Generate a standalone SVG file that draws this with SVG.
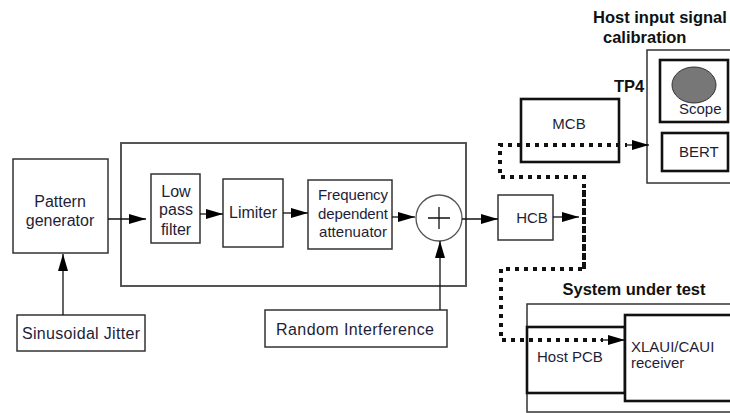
<svg xmlns="http://www.w3.org/2000/svg" width="730" height="413" viewBox="0 0 730 413">
<defs>
<marker id="ah" markerUnits="userSpaceOnUse" markerWidth="18" markerHeight="12" refX="17" refY="6" orient="auto">
<path d="M0,1 L17,6 L0,11 Z" fill="#000"/>
</marker>
<style>
.box{fill:#fff;stroke:#333;stroke-width:1.5}
.thick{fill:#fff;stroke:#111;stroke-width:2.6}
.frame{fill:none;stroke:#555;stroke-width:2}
.t{font-family:"Liberation Sans",Arial,sans-serif;font-size:15px;fill:#1e1e38}
.l{font-size:16px}
.b{font-family:"Liberation Sans",Arial,sans-serif;font-size:16.5px;font-weight:bold;fill:#111}
.c{text-anchor:middle}
.wire{fill:none;stroke:#111;stroke-width:1.3}
.dot{fill:none;stroke:#111;stroke-width:4;stroke-dasharray:4 5}
</style>
</defs>
<rect width="730" height="413" fill="#fff"/>

<g id="frame-main"><rect class="frame" x="121" y="143" width="345" height="143"/></g>

<g id="pattern-generator"><rect class="box" x="13" y="159" width="95" height="94"/>
<text class="t l c" x="60" y="207">Pattern</text><text class="t l c" x="60" y="226">generator</text></g>

<g id="sinusoidal-jitter"><rect class="box" x="17" y="315" width="128" height="36"/>
<text class="t l c" x="81" y="339" textLength="118">Sinusoidal Jitter</text></g>

<g id="low-pass-filter"><rect class="box" x="151" y="174" width="49" height="69"/>
<text class="t l c" x="176" y="197">Low</text><text class="t l c" x="176" y="215">pass</text><text class="t l c" x="176" y="235">filter</text></g>

<g id="limiter"><rect class="box" x="223" y="179" width="60" height="68"/>
<text class="t l c" x="253" y="218">Limiter</text></g>

<g id="freq-attenuator"><rect class="box" x="308" y="180" width="84" height="69"/>
<text class="t c" x="353" y="200" textLength="70">Frequency</text><text class="t c" x="353" y="219" textLength="70">dependent</text><text class="t c" x="353" y="237" textLength="68">attenuator</text></g>

<g id="summer"><circle cx="439" cy="218" r="23" fill="#fff" stroke="#555" stroke-width="1.3"/>
<path d="M439,207 V229 M428,218 H450" stroke="#111" stroke-width="1.3"/></g>

<g id="random-interference"><rect class="box" x="265" y="310" width="182" height="37"/>
<text class="t l c" x="355" y="335" textLength="158">Random Interference</text></g>

<g id="hcb"><rect class="box" x="498" y="195" width="55" height="45"/>
<text class="t c" x="532" y="223">HCB</text></g>

<g id="mcb"><rect class="thick" x="521" y="99" width="98" height="63"/>
<text class="t c" x="569" y="129">MCB</text></g>
<g id="tp4-label"><text class="b" x="614" y="92">TP4</text></g>

<g id="host-calibration"><rect class="box" x="647" y="50" width="90" height="133"/>
<text class="b" x="593" y="23">Host input signal</text><text class="b" x="603" y="43">calibration</text></g>
<g id="scope"><rect class="thick" x="660" y="60" width="68" height="62"/>
<ellipse cx="694" cy="85" rx="22" ry="18" fill="#777" stroke="#333" stroke-width="1"/>
<text class="t" x="679" y="114">Scope</text></g>
<g id="bert"><rect class="thick" x="662" y="133" width="66" height="38"/>
<text class="t" x="679" y="157">BERT</text></g>

<g id="system-under-test"><rect class="box" x="527" y="304" width="210" height="108"/>
<text class="b c" x="634" y="295">System under test</text></g>
<g id="host-pcb"><rect class="thick" x="527" y="327" width="98" height="66"/>
<text class="t" x="537" y="362">Host PCB</text></g>
<g id="receiver"><rect class="thick" x="625" y="315" width="110" height="86"/>
<text class="t" x="631" y="352">XLAUI/CAUI</text><text class="t" x="631" y="368">receiver</text></g>

<g id="connectors">
<line class="wire" x1="108" y1="219" x2="146" y2="219" marker-end="url(#ah)"/>
<line class="wire" x1="63" y1="315" x2="63" y2="254" marker-end="url(#ah)"/>
<line class="wire" x1="200" y1="214" x2="223" y2="214" marker-end="url(#ah)"/>
<line class="wire" x1="283" y1="213" x2="308" y2="213" marker-end="url(#ah)"/>
<line class="wire" x1="392" y1="217" x2="415" y2="217" marker-end="url(#ah)"/>
<line class="wire" x1="462" y1="219" x2="498" y2="219" marker-end="url(#ah)"/>
<line class="wire" x1="440" y1="310" x2="440" y2="241" marker-end="url(#ah)"/>
<line class="wire" x1="553" y1="217" x2="579" y2="217" marker-end="url(#ah)"/>
<path class="dot" d="M584,269 V177 H500 V145 H627"/>
<line class="wire" x1="627" y1="145" x2="649" y2="145" marker-end="url(#ah)"/>
<path class="dot" d="M584,190 V269 H501 V340 H603"/>
<line class="wire" x1="600" y1="340" x2="625" y2="340" marker-end="url(#ah)"/>
</g>
</svg>
